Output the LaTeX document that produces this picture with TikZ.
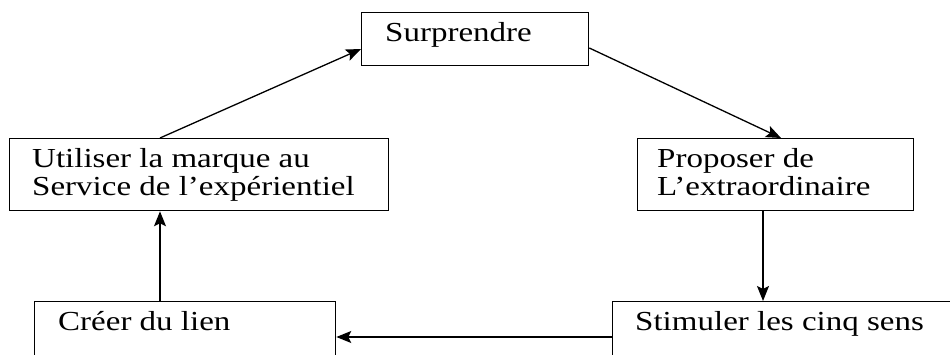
\documentclass[tikz,border=0pt]{standalone}
\usepackage{fontspec}
\setmainfont{Liberation Serif}[FakeStretch=1.2]
\usetikzlibrary{arrows.meta,calc}
\begin{document}
\begin{tikzpicture}[x=1pt,y=-1pt,
  box/.style={draw, line width=1.3pt, anchor=north west, inner sep=0pt, minimum width=#1},
  lbl/.style={anchor=north west, inner sep=0pt, align=left, font=\fontsize{27.5}{28.5}\selectfont},
  arr/.style={line width=1.3pt, -{Stealth[length=15pt,width=12pt,inset=3pt]}}]
\useasboundingbox (0,0) rectangle (950,355);
\fill[white] (0,0) rectangle (950,355);
% boxes
\node[box=227pt, minimum height=53pt] (sur) at (361,12) {};
\node[box=379pt, minimum height=72pt] (lu) at (9,138) {};
\node[box=276pt, minimum height=72pt] (ro) at (637,138) {};
\node[box=301pt, minimum height=80pt] (bl) at (34,301) {};
\node[box=360pt, minimum height=80pt] (br) at (612,301) {};
% labels
\node[lbl] (tsur) at ([xshift=24pt,yshift=-10pt]sur.north west) {Surprendre};
\node[lbl] (tlu) at ([xshift=23pt,yshift=-10pt]lu.north west) {Utiliser la marque au\\Service de l’expérientiel};
\node[lbl] (tro) at ([xshift=20pt,yshift=-10pt]ro.north west) {Proposer de\\L’extraordinaire};
\node[lbl] (tbl) at ([xshift=24pt,yshift=-10pt]bl.north west) {Créer du lien};
\node[lbl] (tbr) at ([xshift=23pt,yshift=-10pt]br.north west) {Stimuler les cinq sens};
% connectors
\draw[arr] ([xshift=151pt]lu.north west) -- ([yshift=-37pt]sur.north west);
\draw[arr] ([yshift=-36pt]sur.north east) -- ([xshift=144pt]ro.north west);
\draw[arr] ([xshift=126pt]ro.south west) -- ([xshift=151pt]br.north west);
\draw[arr] ([yshift=-36pt]br.north west) -- ([yshift=-36pt]bl.north east);
\draw[arr] ([xshift=126pt]bl.north west) -- ([xshift=151pt]lu.south west);
\end{tikzpicture}
\end{document}
